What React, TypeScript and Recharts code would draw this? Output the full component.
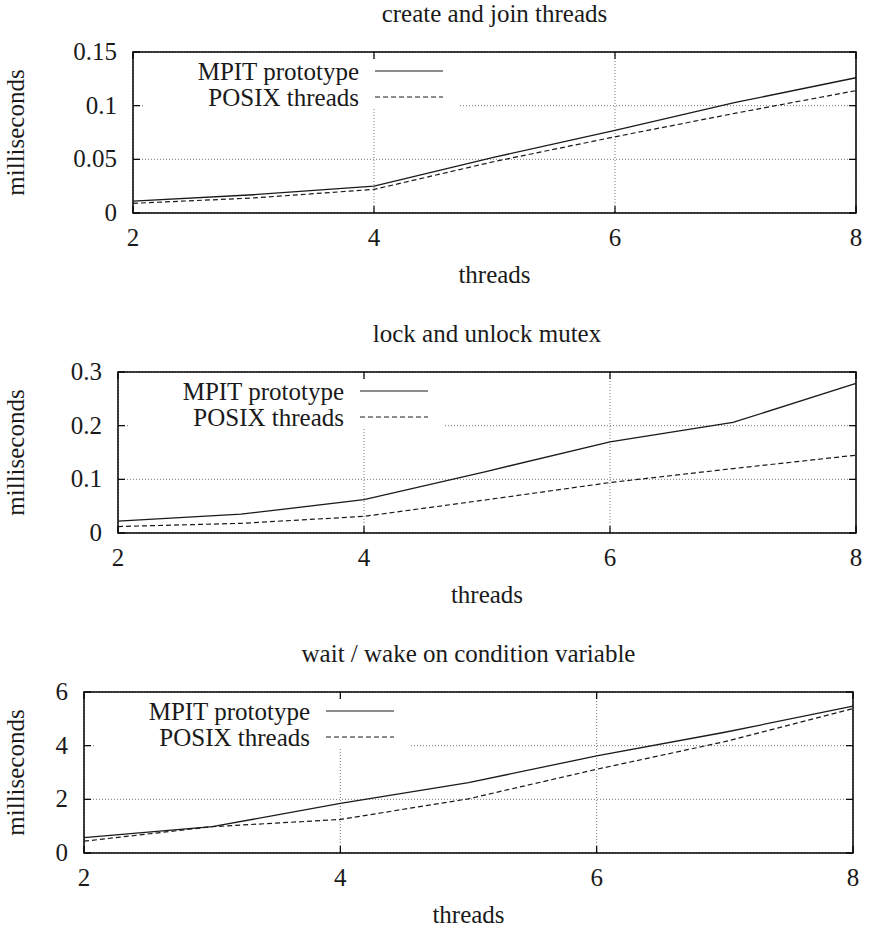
import { CartesianGrid, Label, Legend, Line, LineChart, ReferenceArea, XAxis, YAxis } from "recharts";

const threads = [2, 3, 4, 5, 6, 7, 8];

// create and join threads (ms)
const createMpit = [0.011, 0.017, 0.025, 0.052, 0.077, 0.103, 0.126];
const createPosix = [0.009, 0.014, 0.022, 0.048, 0.071, 0.093, 0.114];

// lock and unlock mutex (ms)
const mutexMpit = [0.022, 0.035, 0.062, 0.115, 0.17, 0.206, 0.279];
const mutexPosix = [0.012, 0.018, 0.031, 0.062, 0.094, 0.12, 0.145];

// wait / wake on condition variable (ms)
const condMpit = [0.57, 0.98, 1.85, 2.62, 3.62, 4.5, 5.47];
const condPosix = [0.44, 0.98, 1.25, 2.02, 3.12, 4.15, 5.38];

const xTicks = [2, 4, 6, 8];
const createTicks = [0, 0.05, 0.1, 0.15];
const mutexTicks = [0, 0.1, 0.2, 0.3];
const condTicks = [0, 2, 4, 6];

const seriesNames = ["MPIT prototype", "POSIX threads"];
const seriesDash = ["", "5 3"];

const FONT = "'Liberation Serif', 'Times New Roman', serif";
const INK = "#1a1a1a";
const textStyle = { fontFamily: FONT, fontSize: 25, fill: INK };

const W = 870;
const H = 300;
const PLOT_TOP = 52;
const PLOT_BOTTOM = 213;
const PLOT_H = PLOT_BOTTOM - PLOT_TOP;

function XTick(props: any) {
  const { x, y, payload } = props;
  return (
    <g>
      <line x1={x} y1={y} x2={x} y2={y - 7} stroke="#000" strokeWidth={1.2} />
      <line x1={x} y1={y - PLOT_H} x2={x} y2={y - PLOT_H + 7} stroke="#000" strokeWidth={1.2} />
      <text x={x} y={y + 33} textAnchor="middle" style={textStyle}>
        {payload.value}
      </text>
    </g>
  );
}

function makeYTick(plotW: number) {
  return (props: any) => {
    const { x, y, payload } = props;
    return (
      <g>
        <line x1={x} y1={y} x2={x + 7} y2={y} stroke="#000" strokeWidth={1.2} />
        <line x1={x + plotW} y1={y} x2={x + plotW - 7} y2={y} stroke="#000" strokeWidth={1.2} />
        <text x={x - 16} y={y + 8} textAnchor="end" style={textStyle}>
          {payload.value}
        </text>
      </g>
    );
  };
}

function KeyBox() {
  return (
    <svg width={313} height={49} style={{ display: "block", background: "#fff", overflow: "visible" }}>
      {seriesNames.map((name, i) => (
        <g key={name}>
          <text x={214} y={21 + i * 26} textAnchor="end" style={textStyle}>
            {name}
          </text>
          <line
            x1={230}
            x2={298}
            y1={12 + i * 26}
            y2={12 + i * 26}
            stroke={INK}
            strokeWidth={1.2}
            strokeDasharray={seriesDash[i] || undefined}
          />
        </g>
      ))}
    </svg>
  );
}

type PanelProps = {
  title: string;
  top: number;
  left: number;
  right: number;
  mpit: number[];
  posix: number[];
  yTicks: number[];
};

function Panel({ title, top, left, right, mpit, posix, yTicks }: PanelProps) {
  const rows = threads.map((t, i) => ({ threads: t, mpit: mpit[i], posix: posix[i] }));
  const yMax = yTicks[yTicks.length - 1];
  const plotW = right - left;
  return (
    <div style={{ position: "absolute", top, left: 0, width: W, height: H }}>
      <div
        style={{
          position: "absolute",
          top: 2,
          left,
          width: plotW,
          textAlign: "center",
          fontFamily: FONT,
          fontSize: 25,
          lineHeight: "24px",
          color: INK,
          whiteSpace: "nowrap",
        }}
      >
        {title}
      </div>
      <LineChart width={W} height={H} data={rows} margin={{ top: PLOT_TOP, right: W - right, left: 0, bottom: 0 }}>
        <CartesianGrid stroke="#777" strokeDasharray="1 2" strokeWidth={1} />
        <XAxis
          dataKey="threads"
          type="number"
          domain={[2, 8]}
          ticks={xTicks}
          interval={0}
          height={H - PLOT_BOTTOM}
          axisLine={false}
          tickLine={false}
          tickSize={0}
          tickMargin={0}
          tick={XTick}
        >
          <Label
            content={({ viewBox }: any) => (
              <text x={viewBox.x + viewBox.width / 2} y={viewBox.y + 70} textAnchor="middle" style={textStyle}>
                threads
              </text>
            )}
          />
        </XAxis>
        <YAxis
          type="number"
          domain={[0, yMax]}
          ticks={yTicks}
          interval={0}
          width={left}
          axisLine={false}
          tickLine={false}
          tickSize={0}
          tickMargin={0}
          tick={makeYTick(plotW)}
        >
          <Label
            content={({ viewBox }: any) => {
              const cx = viewBox.x + 24;
              const cy = viewBox.y + viewBox.height / 2;
              return (
                <text x={cx} y={cy} transform={`rotate(-90 ${cx} ${cy})`} textAnchor="middle" style={textStyle}>
                  milliseconds
                </text>
              );
            }}
          />
        </YAxis>
        <ReferenceArea x1={2} x2={8} y1={0} y2={yMax} fill="none" stroke="#000" strokeWidth={1.5} ifOverflow="visible" />
        <Legend
          layout="vertical"
          align="center"
          verticalAlign="middle"
          wrapperStyle={{ left: left + 12, top: PLOT_TOP + 7, width: 313, height: 49, margin: 0, padding: 0 }}
          content={() => <KeyBox />}
        />
        <Line
          type="linear"
          dataKey="mpit"
          name={seriesNames[0]}
          stroke={INK}
          strokeWidth={1.3}
          dot={false}
          isAnimationActive={false}
        />
        <Line
          type="linear"
          dataKey="posix"
          name={seriesNames[1]}
          stroke={INK}
          strokeWidth={1.2}
          strokeDasharray={seriesDash[1]}
          dot={false}
          isAnimationActive={false}
        />
      </LineChart>
    </div>
  );
}

export default function App() {
  return (
    <div style={{ position: "absolute", top: 0, left: 0, width: W, height: 931, background: "#fff", overflow: "hidden" }}>
      <Panel title="create and join threads" top={0} left={133} right={856} mpit={createMpit} posix={createPosix} yTicks={createTicks} />
      <Panel title="lock and unlock mutex" top={320} left={118} right={856} mpit={mutexMpit} posix={mutexPosix} yTicks={mutexTicks} />
      <Panel
        title="wait / wake on condition variable"
        top={640}
        left={84}
        right={853}
        mpit={condMpit}
        posix={condPosix}
        yTicks={condTicks}
      />
    </div>
  );
}
